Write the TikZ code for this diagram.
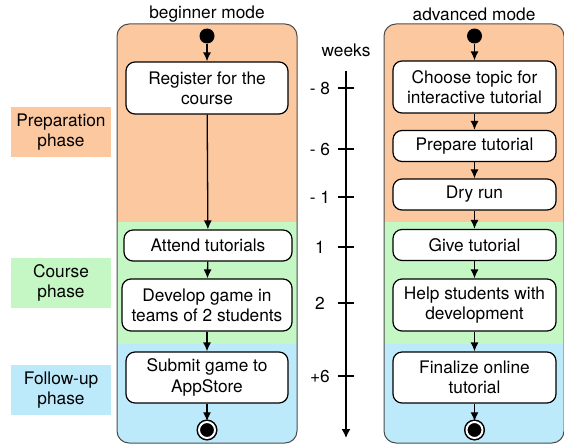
\documentclass[tikz,border=0pt]{standalone}
\usepackage{fontspec}
\setmainfont{TeX Gyre Heros}
\usetikzlibrary{arrows.meta,calc,positioning}
\definecolor{prepcol}{RGB}{251,200,160}
\definecolor{coursecol}{RGB}{196,247,196}
\definecolor{followcol}{RGB}{188,234,251}

\begin{document}
\begin{tikzpicture}[x=1pt,y=-1pt,font=\fontsize{17.3}{20.3}\selectfont,
    act/.style={draw,line width=1.2pt,fill=white,rounded corners=9pt,align=center,inner sep=0pt,minimum height=31pt,minimum width=163pt},
    phase/.style={align=center,inner sep=0pt,minimum width=100pt,minimum height=50pt},
    flow/.style={line width=1.3pt,-{Latex[length=9pt,width=8pt]}},
    startpt/.style={circle,fill,inner sep=0pt,minimum size=15pt},
    endpt/.style={circle,draw,fill,line width=1.5pt,double=white,double distance=2pt,inner sep=0pt,minimum size=16pt}]
    \useasboundingbox (0,0) rectangle (564,444);
    % lanes
    \foreach \x in {117,384}{
        \begin{scope}
            \clip[rounded corners=12pt] (\x,24) rectangle ++(180,419);
            \fill[prepcol] (\x,24) rectangle ++(180,198);
            \fill[coursecol] (\x,222) rectangle ++(180,122);
            \fill[followcol] (\x,344) rectangle ++(180,100);
        \end{scope}
        \draw[line width=1pt,black!70,rounded corners=12pt] (\x,24) rectangle ++(180,419);}
    \node (beg) at (207,14) {beginner mode};
    \node (adv) at (474,14) {advanced mode};
    % phases
    \node[phase,fill=prepcol] (prep) at (61,132) {Preparation\\phase};
    \node[phase,fill=coursecol] (course) at (61,283) {Course\\phase};
    \node[phase,fill=followcol] (follow) at (61,390) {Follow-up\\phase};
    % beginner
    \node[startpt] (bstart) at (207,36) {};
    \node[act,minimum width=162pt,minimum height=52pt] (reg) at (207,88) {Register for the\\course};
    \node[act,minimum width=168pt] (att) at (208,245.5) {Attend tutorials};
    \node[act,minimum width=170pt,minimum height=52pt] (dev) at (207,305) {Develop game in\\teams of 2 students};
    \node[act,minimum width=162pt,minimum height=51pt] (sub) at (207,377.5) {Submit game to\\AppStore};
    \node[endpt] (bend) at (207,430) {};
    \draw[flow] (bstart) -- (reg);
    \draw[flow] (reg) -- (att);
    \draw[flow] (att) -- (dev);
    \draw[flow] (dev) -- (sub);
    \draw[flow] (sub) -- (bend);
    % advanced
    \node[startpt] (astart) at (474.5,36) {};
    \node[act,minimum height=52pt] (topic) at (474.5,87) {Choose topic for\\interactive tutorial};
    \node[act] (prepare) at (474.5,146) {Prepare tutorial};
    \node[act] (dry) at (474.5,194.5) {Dry run};
    \node[act] (give) at (474.5,245) {Give tutorial};
    \node[act,minimum height=52pt] (help) at (474.5,305) {Help students with\\development};
    \node[act,minimum height=51pt] (final) at (474.5,377.5) {Finalize online\\tutorial};
    \node[endpt] (aend) at (474.5,430) {};
    \draw[flow] (astart) -- (topic);
    \draw[flow] (topic) -- (prepare);
    \draw[flow] (prepare) -- (dry);
    \draw[flow] (dry) -- (give);
    \draw[flow] (give) -- (help);
    \draw[flow] (help) -- (final);
    \draw[flow] (final) -- (aend);
    % weeks
    \node (wk) at (346,50) {weeks};
    \coordinate (ttop) at (346,71);
    \coordinate (tbot) at (346,438);
    \draw[line width=1.5pt,-{Latex[length=9pt,width=9pt]}] (ttop) -- (tbot);
    \foreach \y/\w in {88/- 8,149/- 6,197/- 1,247/1,303/2,376/+6}{
        \draw[line width=1.3pt] (338,\y) -- (354,\y);
        \node (w\y) at (320,\y) {\w};}
\end{tikzpicture}
\end{document}
